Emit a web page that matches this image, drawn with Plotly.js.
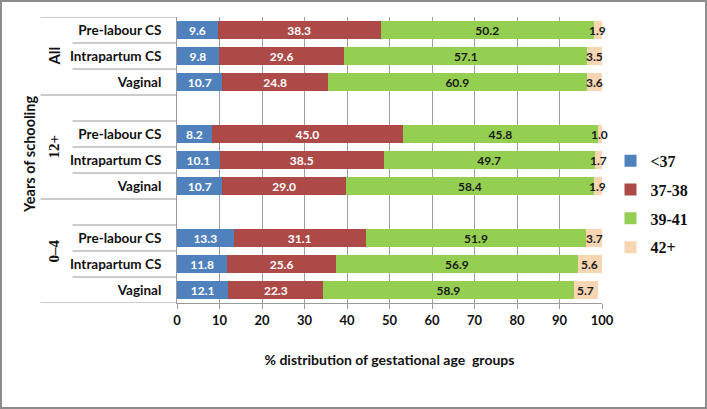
<!DOCTYPE html>
<html>
<head>
<meta charset="utf-8">
<script src="https://cdn.plot.ly/plotly-3.0.1.min.js"></script>
<style>
  body { margin: 0; background: #fff; }
  #chart { width: 707px; height: 409px; box-sizing: border-box; border: 2px solid #8c8c8c; }
</style>
</head>
<body>
<div id="chart"></div>
<script>
const groups = ['All', '12+', '0\u20134'];
const deliveries = ['Pre-labour CS', 'Intrapartum CS', 'Vaginal'];
const seriesNames = ['<37', '37-38', '39-41', '42+'];

// one value per row, rows in order: All (3), 12+ (3), 0-4 (3)
const under37 = [9.6, 9.8, 10.7, 8.2, 10.1, 10.7, 13.3, 11.8, 12.1];
const w37to38 = [38.3, 29.6, 24.8, 45.0, 38.5, 29.0, 31.1, 25.6, 22.3];
const w39to41 = [50.2, 57.1, 60.9, 45.8, 49.7, 58.4, 51.9, 56.9, 58.9];
const w42plus = [1.9, 3.5, 3.6, 1.0, 1.7, 1.9, 3.7, 5.6, 5.7];

const colors = ['#4f81bd', '#ad4a48', '#94cf52', '#f8d5b3'];
const textColors = ['#ffffff', '#ffffff', '#1a1a1a', '#1a1a1a'];

const SANS = 'Lato, sans-serif';
const SERIF = "'Liberation Serif', 'Times New Roman', serif";

// slot positions: each group takes 3 rows, a blank slot between groups
const rowPos = [];
const rowText = [];
groups.forEach((g, gi) => {
  deliveries.forEach((d, ri) => {
    rowPos.push(gi * 4 + ri);
    rowText.push(d);
  });
});

const values = [under37, w37to38, w39to41, w42plus];
const data = values.map((vals, i) => {
  const narrow = i === values.length - 1;
  return {
    type: 'bar',
    orientation: 'h',
    name: seriesNames[i],
    legendgroup: 'g' + i,
    x: vals,
    y: rowPos,
    marker: { color: colors[i] },
    texttemplate: narrow ? '' : '%{x:.1f}',
    textposition: narrow ? 'none' : 'inside',
    textangle: 0,
    insidetextanchor: 'middle',
    textfont: { family: SANS, size: 12, weight: 'bold', color: textColors[i] },
    hoverinfo: 'skip'
  };
});

const PLOT_W = 427;
const longX = (40 - 177) / PLOT_W;
const shortX = (72 - 177) / PLOT_W;
const lineStyle = { color: '#9a9a9a', width: 1.2 };
const shapes = [];
const annotations = [];

// labels of the thin 42+ segments, centred on the segment and allowed to overflow
w42plus.forEach((v, j) => {
  const start = under37[j] + w37to38[j] + w39to41[j];
  annotations.push({
    xref: 'x', yref: 'y', x: start + v / 2, y: rowPos[j],
    xanchor: 'center', yanchor: 'middle', showarrow: false,
    text: v.toFixed(1),
    font: { family: SANS, size: 12, weight: 'bold', color: textColors[3] }
  });
});

groups.forEach((g, gi) => {
  const lo = gi === 0 ? -0.5 : gi * 4 - 1.5;
  const hi = gi * 4 + 2.5;
  // group boundary lines
  shapes.push({ type: 'line', xref: 'paper', yref: 'y', x0: longX, x1: 0, y0: lo, y1: lo, line: lineStyle });
  if (gi === groups.length - 1) {
    shapes.push({ type: 'line', xref: 'paper', yref: 'y', x0: longX, x1: 0, y0: hi, y1: hi, line: lineStyle });
  }
  // inner row lines
  for (let k = gi * 4 - 0.5; k < hi - 0.6; k += 1) {
    if (k <= lo + 0.01) continue;
    shapes.push({ type: 'line', xref: 'paper', yref: 'y', x0: shortX, x1: 0, y0: k, y1: k, line: lineStyle });
  }
  annotations.push({
    xref: 'paper', yref: 'y', x: (53 - 177) / PLOT_W, y: (lo + hi) / 2,
    xanchor: 'center', yanchor: 'middle',
    text: g, textangle: -90, showarrow: false,
    font: gi === 0
      ? { family: SANS, size: 15, weight: 'bold', color: '#111' }
      : { family: SERIF, size: 15, weight: 'bold', color: '#111' }
  });
});

annotations.push({
  xref: 'paper', yref: 'paper', x: (29 - 177) / PLOT_W, y: 0.52,
  xanchor: 'center', yanchor: 'middle',
  text: 'Years of schooling', textangle: -90, showarrow: false,
  font: { family: SANS, size: 14.5, weight: 'bold', color: '#111' }
});

const layout = {
  width: 703,
  height: 405,
  margin: { l: 175, r: 101, t: 15, b: 104 },
  paper_bgcolor: '#ffffff',
  plot_bgcolor: '#ffffff',
  barmode: 'stack',
  bargap: 0.3,
  showlegend: true,
  uniformtext: { mode: 'show', minsize: 12 },
  legend: {
    x: 1.02, xanchor: 'left', y: 0.345, yanchor: 'middle',
    traceorder: 'grouped', tracegroupgap: 5,
    font: { family: SERIF, size: 16, weight: 'bold', color: '#111' },
    itemwidth: 30
  },
  xaxis: {
    range: [0, 100],
    dtick: 10,
    showgrid: true,
    gridcolor: '#a0a0a0',
    showline: true,
    linecolor: '#9a9a9a',
    ticks: 'outside',
    ticklen: 5,
    tickcolor: '#9a9a9a',
    zeroline: false,
    tickfont: { family: SANS, size: 13, weight: 'bold', color: '#111' },
    title: {
      text: '% distribution of gestational age  groups',
      standoff: 28,
      font: { family: SANS, size: 14, weight: 'bold', color: '#111' }
    },
    fixedrange: true
  },
  yaxis: {
    range: [10.5, -0.5],
    tickvals: rowPos,
    ticktext: rowText,
    ticks: '',
    ticklabelstandoff: 12,
    showgrid: false,
    showline: true,
    linecolor: '#9a9a9a',
    zeroline: false,
    tickfont: { family: SANS, size: 13.5, weight: 'bold', color: '#111' },
    fixedrange: true
  },
  shapes: shapes,
  annotations: annotations
};

Plotly.newPlot('chart', data, layout, { displayModeBar: false, staticPlot: true });
</script>
</body>
</html>
